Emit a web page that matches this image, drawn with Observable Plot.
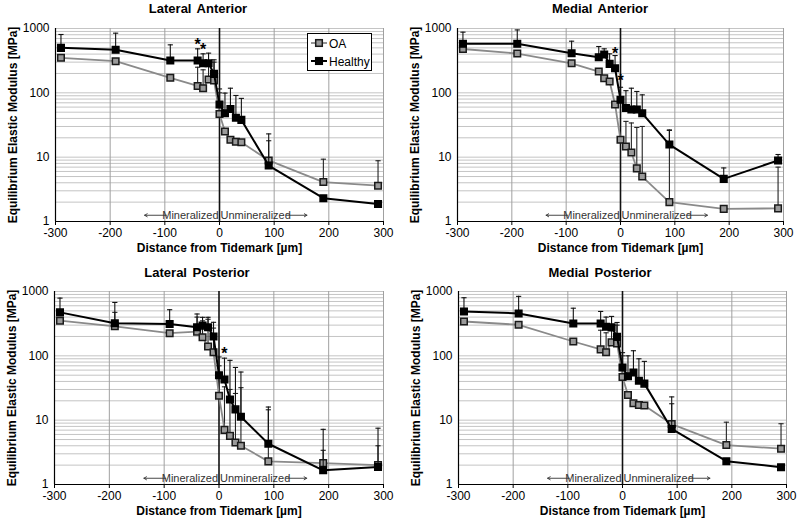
<!DOCTYPE html>
<html><head><meta charset="utf-8">
<script src="https://cdn.jsdelivr.net/npm/d3@7"></script>
<script src="https://cdn.jsdelivr.net/npm/@observablehq/plot@0.6"></script>
<style>
body{margin:0;background:#fff;font-family:"Liberation Sans",Arial,sans-serif;}
#wrap{position:relative;width:800px;height:526px;overflow:hidden;}
.panel{position:absolute;}
.title{position:absolute;font-weight:bold;font-size:13px;color:#000;white-space:nowrap;transform:translate(-50%,0);word-spacing:2px;}
.panel svg g[aria-label$="axis label"] text{font-weight:bold;}
.legend{position:absolute;left:307px;top:33px;width:63px;height:36px;border:1px solid #000;background:#fff;}
</style></head><body><div id="wrap"></div>
<script>
// x positions (distance from tidemark, µm)
const xs = [-290,-190,-90,-40,-30,-20,-10,0,10,20,30,40,90,190,290];
const xTicks = [-300,-200,-100,0,100,200,300];
const yTicks = [1,10,100,1000];
const seriesNames = ["OA","Healthy"];

// Lateral Anterior
const laOA    = [350,310,171,128,118,161,155,47,25,18.6,17.4,17,8.9,4.1,3.6];
const laOAerr = [null,null,null,250,228,280,300,100,null,null,null,null,18,9.3,8.8];
const laH     = [500,466,318,318,288,288,197,66,48,56,41,38,7.4,2.3,1.87];
const laHerr  = [807,846,557,483,404,414,326,115,99,118,91,82,23,null,null];
const laStarX = [-40,-30];
const laStarY = [635,545];

// Medial Anterior
const maOA    = [480,408,288,214,169,150,66,18.6,14.6,11.8,6.7,5,2,1.57,1.6];
const maOAerr = [null,null,null,null,null,null,null,null,36,34,29,30,26,null,7.0];
const maH     = [578,578,413,358,394,282,241,78,58,55,55,48,15.7,4.6,8.9];
const maHerr  = [877,950,635,525,483,404,380,122,108,118,105,93,26.5,6.8,11];
const maStarX = [-10,0];
const maStarY = [471,179];

// Lateral Posterior
const lpOA    = [352,288,225,238,195,140,114,24,7.06,5.7,4.5,4.0,2.29,2.15,2.0];
const lpOAerr = [null,474,null,400,350,370,270,70,33,30,26,32,14.5,3.4,4.0];
const lpH     = [474,320,313,278,295,278,200,50,43,21,14.7,11.3,4.3,1.66,1.87];
const lpHerr  = [789,676,521,447,397,397,332,96,92,85,66,56,16,7.2,7.5];
const lpStarX = [10];
const lpStarY = [125];

// Medial Posterior
const mpOA    = [342,304,167,126,114,162,156,47,24.6,18.3,17.2,16.9,8.7,4.1,3.6];
const mpOAerr = [null,null,null,250,228,280,300,100,null,null,null,null,18,9.3,8.8];
const mpH     = [490,456,318,318,283,277,198,66,48,55,41,37,7.3,2.3,1.86];
const mpHerr  = [800,840,550,490,400,410,330,112,100,120,90,82,23,null,null];
const mpStarX = [];
const mpStarY = [];

// Annotation
const annoY = 1.25;
const annoLeftArrow = [-97,-137];
const annoRightArrow = [122,160];

const yGrid = [];
for (const d of [1,10,100]) for (let k=1;k<10;k++) yGrid.push(d*k);
yGrid.push(1000);
const xGrid = [-200,-100,100,200,300];

const capSymbol = {draw(ctx, size){ const w = Math.sqrt(size/Math.PI); ctx.moveTo(-w,0); ctx.lineTo(w,0);} };

function rows(vals, errs){ return xs.map((x,i)=>({x, y:vals[i], e:errs[i]})); }

function panel(cfg){
  const oa = rows(cfg.oa, cfg.oaErr), h = rows(cfg.h, cfg.hErr);
  const oaE = oa.filter(d=>d.e!=null), hE = h.filter(d=>d.e!=null);
  const stars = cfg.starX.map((x,i)=>({x, y:cfg.starY[i]}));
  return Plot.plot({
    width:400, height:cfg.height,
    marginTop:cfg.mt, marginBottom:cfg.mb, marginLeft:cfg.ml, marginRight:cfg.mr,
    style:{fontFamily:"'Liberation Sans', Arial, sans-serif", fontSize:"12px", color:"#000", background:"transparent", overflow:"visible"},
    x:{domain:[-300,300]},
    y:{type:"log", domain:[1,1000]},
    marks:[
      Plot.ruleY(yGrid,{stroke:"#c4c4c4", strokeWidth:1}),
      Plot.ruleX(xGrid,{stroke:"#a0a0a0", strokeWidth:1}),
      Plot.ruleX([-300],{stroke:"#000", strokeWidth:1.2}),
      Plot.ruleY([1],{stroke:"#000", strokeWidth:1.2}),
      Plot.ruleX([0],{stroke:"#111", strokeWidth:1.6}),
      Plot.axisX({ticks:xTicks, tickSize:4, tickPadding:3, tickFormat:d=>String(d), fontSize:12,
        label:"Distance from Tidemark [µm]", labelAnchor:"center", labelArrow:"none", labelOffset:30}),
      Plot.axisY({ticks:yTicks, tickSize:0, tickPadding:6, tickFormat:d=>String(d), fontSize:12,
        label:"Equilibrium Elastic Modulus [MPa]", labelAnchor:"center", labelArrow:"none", labelOffset:47}),
      // annotation
      Plot.text([annoY],{x:0, y:d=>d, text:["Mineralized"], textAnchor:"end", dx:-1, fill:"#333", fontSize:11}),
      Plot.text([annoY],{x:0, y:d=>d, text:["Unmineralized"], textAnchor:"start", dx:1, fill:"#333", fontSize:11}),
      Plot.arrow([annoLeftArrow, annoRightArrow],{x1:d=>d[0], x2:d=>d[1], y1:annoY, y2:annoY, stroke:"#333", strokeWidth:0.9, headLength:5, bend:0}),
      // OA
      Plot.ruleX(oaE,{x:"x", y1:"y", y2:"e", stroke:"#222", strokeWidth:1.1}),
      Plot.dot(oaE,{x:"x", y:"e", r:2.6, symbol:capSymbol, stroke:"#222", strokeWidth:1.1, fill:"none"}),
      Plot.line(oa,{x:"x", y:"y", stroke:"#8a8a8a", strokeWidth:1.8}),
      Plot.dot(oa,{x:"x", y:"y", symbol:"square", r:3.7, fill:"#9a9a9a", stroke:"#1a1a1a", strokeWidth:1.5}),
      // Healthy
      Plot.ruleX(hE,{x:"x", y1:"y", y2:"e", stroke:"#111", strokeWidth:1.1}),
      Plot.dot(hE,{x:"x", y:"e", r:2.6, symbol:capSymbol, stroke:"#111", strokeWidth:1.1, fill:"none"}),
      Plot.line(h,{x:"x", y:"y", stroke:"#000", strokeWidth:2}),
      Plot.dot(h,{x:"x", y:"y", symbol:"square", r:3.7, fill:"#000", stroke:"#000", strokeWidth:1.5}),
      // significance
      Plot.text(stars,{x:"x", y:"y", text:()=>"*", fontSize:16, fontWeight:"bold", fill:"#000", dy:4})
    ]
  });
}

const wrap = document.getElementById("wrap");
const panels = [
  {title:"Lateral Anterior", left:0, top:0, height:263, mt:28, mb:42, ml:55, mr:17, tx:198, ty:1,
   oa:laOA, oaErr:laOAerr, h:laH, hErr:laHerr, starX:laStarX, starY:laStarY, legend:true},
  {title:"Medial Anterior", left:400, top:0, height:263, mt:28, mb:42, ml:57, mr:17, tx:200, ty:1,
   oa:maOA, oaErr:maOAerr, h:maH, hErr:maHerr, starX:maStarX, starY:maStarY},
  {title:"Lateral Posterior", left:0, top:260, height:266, mt:31, mb:42, ml:54, mr:17, tx:197, ty:5,
   oa:lpOA, oaErr:lpOAerr, h:lpH, hErr:lpHerr, starX:lpStarX, starY:lpStarY},
  {title:"Medial Posterior", left:400, top:260, height:266, mt:31, mb:42, ml:58, mr:14, tx:200, ty:5,
   oa:mpOA, oaErr:mpOAerr, h:mpH, hErr:mpHerr, starX:mpStarX, starY:mpStarY}
];
for (const p of panels){
  const div = document.createElement("div");
  div.className = "panel";
  div.style.left = p.left+"px"; div.style.top = p.top+"px";
  div.style.width = "400px"; div.style.height = p.height+"px";
  div.appendChild(panel(p));
  const t = document.createElement("div");
  t.className = "title"; t.textContent = p.title;
  t.style.left = p.tx+"px"; t.style.top = p.ty+"px";
  div.appendChild(t);
  if (p.legend){
    const lg = document.createElement("div");
    lg.className = "legend";
    lg.innerHTML = `<svg width="63" height="36" style="font-family:'Liberation Sans',Arial,sans-serif;font-size:12px">
      <line x1="3" x2="19" y1="9" y2="9" stroke="#8a8a8a" stroke-width="1.8"/>
      <rect x="7.7" y="5.7" width="6.6" height="6.6" fill="#9a9a9a" stroke="#1a1a1a" stroke-width="1.5"/>
      <text x="21" y="13.5">${seriesNames[0]}</text>
      <line x1="3" x2="19" y1="27" y2="27" stroke="#000" stroke-width="2"/>
      <rect x="7.7" y="23.7" width="6.6" height="6.6" fill="#000" stroke="#000" stroke-width="1.5"/>
      <text x="21" y="31.5">${seriesNames[1]}</text></svg>`;
    div.appendChild(lg);
  }
  wrap.appendChild(div);
}
</script></body></html>
